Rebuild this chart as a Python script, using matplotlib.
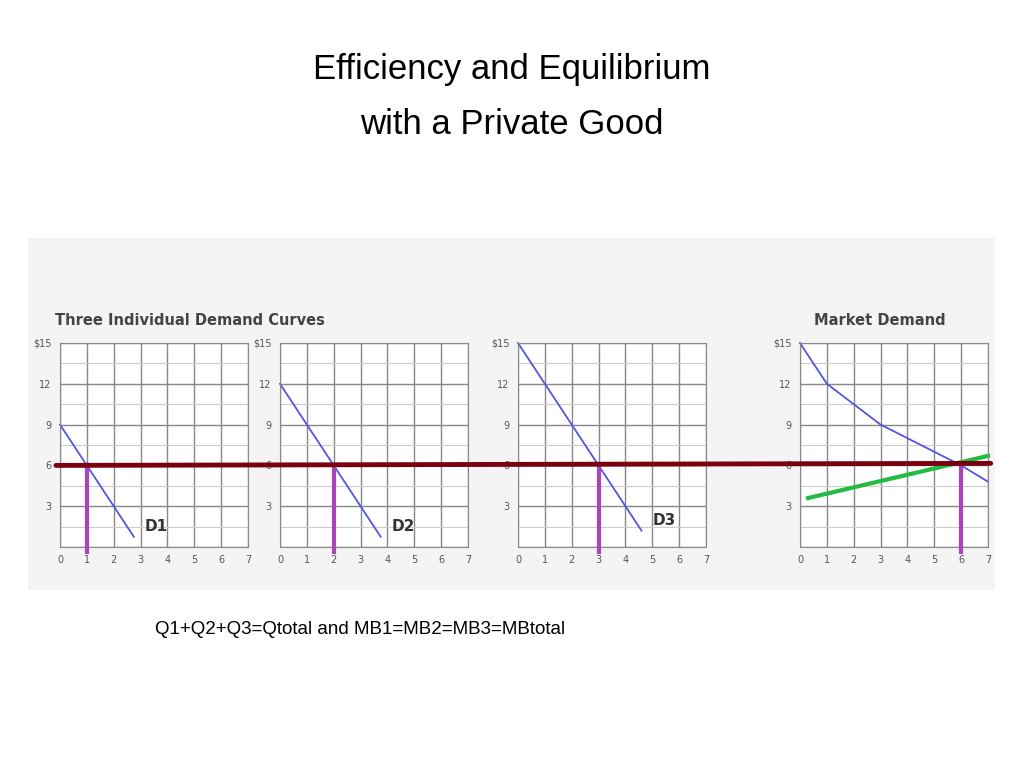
import matplotlib.pyplot as plt
from matplotlib.patches import ConnectionPatch

price_ticks = [0, 3, 6, 9, 12, 15]
price_labels = ["", "3", "6", "9", "12", "$15"]
qty_ticks = [0, 1, 2, 3, 4, 5, 6, 7]

d1_q = [0, 2.75]
d1_p = [9, 0.75]
d2_q = [0, 3.75]
d2_p = [12, 0.75]
d3_q = [0, 4.6]
d3_p = [15, 1.2]
market_q = [0, 1, 2, 3, 4, 5, 6, 7]
market_p = [15, 12, 10.5, 9, 8, 7, 6, 4.8]
supply_q = [0.3, 7]
supply_p = [3.6, 6.7]
eq_price = 6
eq_qty = [1, 2, 3, 6]

W, H = 1024, 768
fig = plt.figure(figsize=(W / 100, H / 100), dpi=100)
bg = fig.add_axes([28 / W, 1 - 590 / H, 967 / W, 352 / H], zorder=-1)
bg.set_facecolor("#f4f4f4")
bg.set_xticks([])
bg.set_yticks([])
for s in bg.spines.values():
    s.set_visible(False)

fig.text(0.5, 1 - 70 / H, "Efficiency and Equilibrium", ha="center", va="center",
         fontsize=25, family="Liberation Sans")
fig.text(0.5, 1 - 125 / H, "with a Private Good", ha="center", va="center",
         fontsize=25, family="Liberation Sans")
fig.text(155 / W, 1 - 629 / H, "Q1+Q2+Q3=Qtotal and MB1=MB2=MB3=MBtotal",
         ha="left", va="center", fontsize=13.5, family="Liberation Sans")
fig.text(55 / W, 1 - 320 / H, "Three Individual Demand Curves", fontsize=10.5,
         fontweight="bold", color="#444444", va="center")
fig.text(880 / W, 1 - 320 / H, "Market Demand", fontsize=10.5,
         fontweight="bold", color="#444444", va="center", ha="center")

lefts = [60, 280, 518, 800]
width = 188
top, bottom = 343, 547
axes = []
for i, left in enumerate(lefts):
    ax = fig.add_axes([left / W, 1 - bottom / H, width / W, (bottom - top) / H])
    ax.set_xlim(0, 7)
    ax.set_ylim(0, 15)
    ax.set_facecolor("white")
    ax.set_xticks(qty_ticks)
    ax.set_yticks(price_ticks)
    ax.set_yticklabels(price_labels)
    ax.set_yticks([1.5, 4.5, 7.5, 10.5, 13.5], minor=True)
    ax.grid(True, which="major", color="#888888", lw=1)
    ax.grid(True, which="minor", axis="y", color="#cccccc", lw=0.8)
    ax.tick_params(length=0, labelsize=7, colors="#555555", pad=6)
    ax.tick_params(which="minor", length=0)
    for s in ax.spines.values():
        s.set_color("#888888")
    axes.append(ax)

blue = "#5555dd"
for ax, q, p, name in zip(axes[:3], [d1_q, d2_q, d3_q], [d1_p, d2_p, d3_p], ["D1", "D2", "D3"]):
    ax.plot(q, p, color=blue, lw=1.3, clip_on=False)
    ax.text(q[1] + 0.4, p[1] + 0.2, name, fontsize=11, fontweight="bold", color="#333333",
            va="bottom")
axes[3].plot(market_q, market_p, color=blue, lw=1.3, clip_on=False)
axes[3].plot(supply_q, supply_p, color="#22bb44", lw=3, clip_on=False)

for ax, q in zip(axes, eq_qty):
    ax.plot([q, q], [-0.4, eq_price], color="#aa44bb", lw=3, clip_on=False, zorder=4)

line = ConnectionPatch(xyA=(-0.15, eq_price), coordsA=axes[0].transData,
                       xyB=(7.1, eq_price + 0.15), coordsB=axes[3].transData,
                       color="#7a0010", lw=3.5, zorder=5)
fig.add_artist(line)

fig.savefig("out.png", dpi=100)
